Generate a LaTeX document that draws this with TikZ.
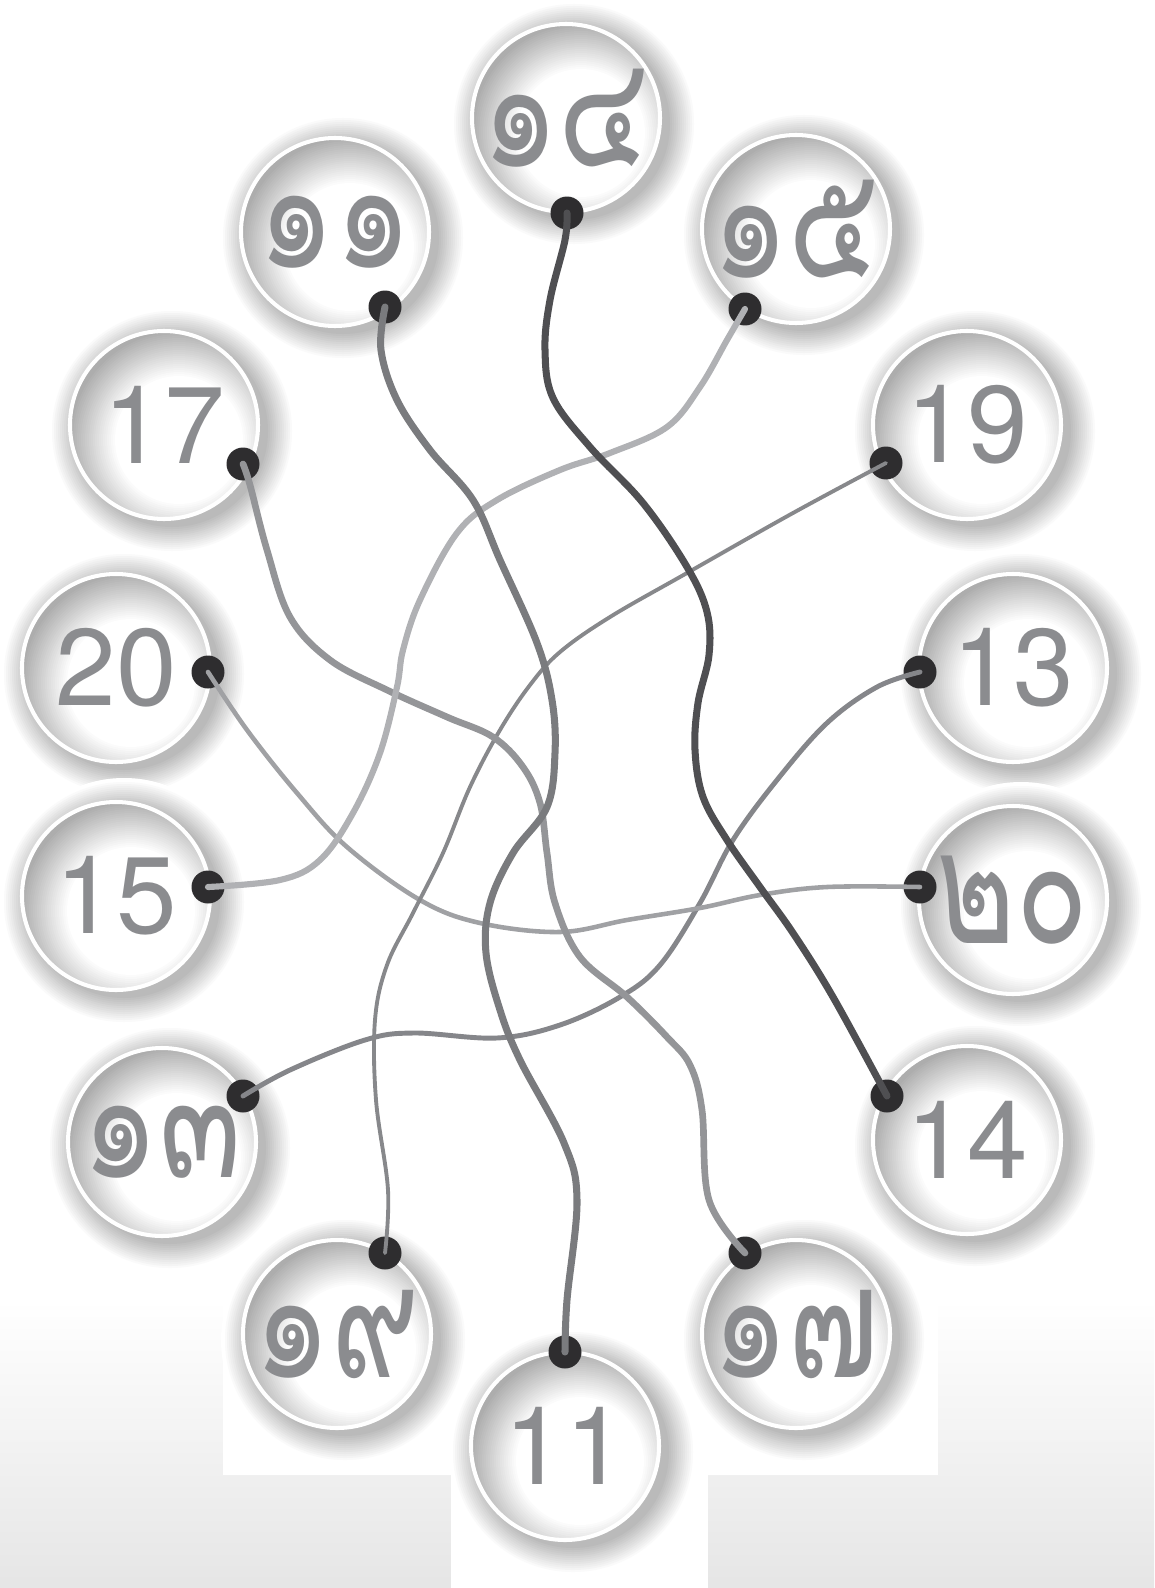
\documentclass[tikz,border=0pt]{standalone}
\usepackage{fontspec}
\setmainfont{TeX Gyre Heros}
\newfontfamily\thaifont[Script=Thai, FakeStretch=0.76]{Loma}
\usepackage{xcolor}
\usepackage{tikz}
\usetikzlibrary{calc}
\definecolor{numgray}{HTML}{8B8C8F}
\definecolor{beadgray}{HTML}{2E2D2F}
\definecolor{cordA}{HTML}{4F4F52}
\definecolor{cordB}{HTML}{7A7B7E}
\definecolor{cordC}{HTML}{B0B1B4}
\definecolor{cordD}{HTML}{949598}
\definecolor{cordE}{HTML}{87888B}
\definecolor{cordF}{HTML}{A0A1A4}
\definecolor{cordG}{HTML}{85868A}
\tikzset{
  numlbl/.style={text=numgray, font=\fontsize{62}{62}\selectfont, inner sep=0pt},
  thailbl/.style={text=numgray, font=\thaifont\fontsize{90}{90}\selectfont, inner sep=0pt},
  bead/.style={circle, fill=beadgray, minimum size=0.66cm, inner sep=0pt},
  cord/.style={line cap=round, line join=round},
  every picture/.style={line cap=round, line join=round}
}
\begin{document}
\begin{tikzpicture}[x=0.02cm, y=-0.02cm]
  \useasboundingbox (0,0) rectangle (1154,1588);
  % ground strip at the bottom
  \shade[top color=white, bottom color=black!10] (0,1300) rectangle (1154,1588);
  \fill[white] (223,1290) rectangle (451,1475);
  \fill[white] (451,1290) rectangle (708,1588);
  \fill[white] (708,1290) rectangle (938,1475);

  \coordinate (c14t) at (566,118);
  \coordinate (c11t) at (335,232);
  \coordinate (c15t) at (796,229);
  \coordinate (c17) at (164,425);
  \coordinate (c19) at (967,425);
  \coordinate (c20) at (116,668);
  \coordinate (c13) at (1013,668);
  \coordinate (c15) at (116,896);
  \coordinate (c20t) at (1013,900);
  \coordinate (c13t) at (162,1142);
  \coordinate (c14) at (967,1140);
  \coordinate (c19t) at (337,1334);
  \coordinate (c17t) at (796,1334);
  \coordinate (c11) at (565,1446);

  % glowing rings
  \foreach \c in {c14t,c11t,c15t,c17,c19,c20,c13,c15,c20t,c13t,c14,c19t,c17t,c11}{
    \foreach \r in {124,122,...,86}{
      \pgfmathsetmacro{\p}{max(0,min(27,(122-\r)*27/26))}
      \fill[black!\p] ([shift={(8,6)}]\c) circle (\r);
    }
    \begin{scope}
      \clip (\c) circle (93);
      \foreach \r in {118,116,...,60}{
        \pgfmathsetmacro{\p}{max(0,min(32,(\r-64)*32/46))}
        \fill[black!\p] ([shift={(15,15)}]\c) circle (\r);
      }
    \end{scope}
    \draw[white, line width=2.3pt] (\c) circle (94);
  }

  \node[thailbl] (t14) at (c14t) {๑๔};
  \node[thailbl] (t11) at (c11t) {๑๑};
  \node[thailbl] (t15) at (c15t) {๑๕};
  \node[numlbl] (a17) at (c17) {17};
  \node[numlbl] (a19) at (c19) {19};
  \node[numlbl] (a20) at (c20) {20};
  \node[numlbl] (a13) at (c13) {13};
  \node[numlbl] (a15) at (c15) {15};
  \node[thailbl] (t20) at (c20t) {๒๐};
  \node[thailbl] (t13) at (c13t) {๑๓};
  \node[numlbl] (a14) at (c14) {14};
  \node[thailbl] (t19) at (c19t) {๑๙};
  \node[thailbl] (t17) at (c17t) {๑๗};
  \node[numlbl] (a11) at (c11) {11};

  \node[bead] (b14t) at (567,213) {};
  \node[bead] (b11t) at (385,307) {};
  \node[bead] (b15t) at (745,309) {};
  \node[bead] (b17) at (243,464) {};
  \node[bead] (b19) at (886,463) {};
  \node[bead] (b20) at (208,672) {};
  \node[bead] (b13) at (920,672) {};
  \node[bead] (b15) at (208,887) {};
  \node[bead] (b20t) at (920,887) {};
  \node[bead] (b13t) at (243,1096) {};
  \node[bead] (b14) at (887,1096) {};
  \node[bead] (b19t) at (385,1253) {};
  \node[bead] (b17t) at (745,1253) {};
  \node[bead] (b11) at (565,1352) {};

  % the cords
  \draw[cord, draw=cordG, line width=2.8pt] plot[smooth, tension=0.6] coordinates {(b13.center) (877,687) (827,723) (777,780) (733,840) (700,903) (660,965) (620,997) (560,1025) (497,1038) (414,1033) (365,1040) (290,1070) (b13t.center)};
  \draw[cord, draw=cordF, line width=2.6pt] plot[smooth, tension=0.6] coordinates {(b20.center) (247,730) (297,793) (347,847) (420,900) (480,923) (560,932) (627,920) (700,908) (760,895) (827,887) (b20t.center)};
  \draw[cord, draw=cordE, line width=2.2pt] plot[smooth, tension=0.6] coordinates {(b19.center) (793,513) (687,573) (610,617) (560,652) (530,685) (500,730) (470,787) (443,853) (413,913) (387,965) (375,1020) (376,1100) (388,1190) (b19t.center)};
  \draw[cord, draw=cordD, line width=3.8pt] plot[smooth, tension=0.6] coordinates {(b17.center) (250,485) (267,550) (290,617) (330,660) (387,690) (447,717) (493,737) (523,767) (540,803) (547,853) (555,903) (580,957) (627,997) (667,1037) (690,1065) (702,1110) (709,1200) (b17t.center)};
  \draw[cord, draw=cordC, line width=3.5pt] plot[smooth, tension=0.6] coordinates {(b15t.center) (727,340) (700,387) (667,427) (610,453) (560,470) (497,500) (457,533) (420,600) (403,650) (397,687) (380,753) (353,813) (320,860) (280,880) (b15.center)};
  \draw[cord, draw=cordB, line width=4pt] plot[smooth, tension=0.6] coordinates {(b11t.center) (381,350) (397,400) (430,450) (473,500) (500,560) (537,643) (552,700) (555,753) (547,807) (513,853) (490,903) (486,953) (500,1010) (520,1060) (564,1143) (577,1200) (567,1300) (b11.center)};
  \draw[cord, draw=cordA, line width=4pt] plot[smooth, tension=0.6] coordinates {(b14t.center) (565,240) (550,300) (545,350) (553,398) (590,447) (643,503) (687,567) (707,612) (709,655) (698,703) (695,750) (703,797) (727,840) (760,887) (793,933) (833,997) (b14.center)};
\end{tikzpicture}
\end{document}
